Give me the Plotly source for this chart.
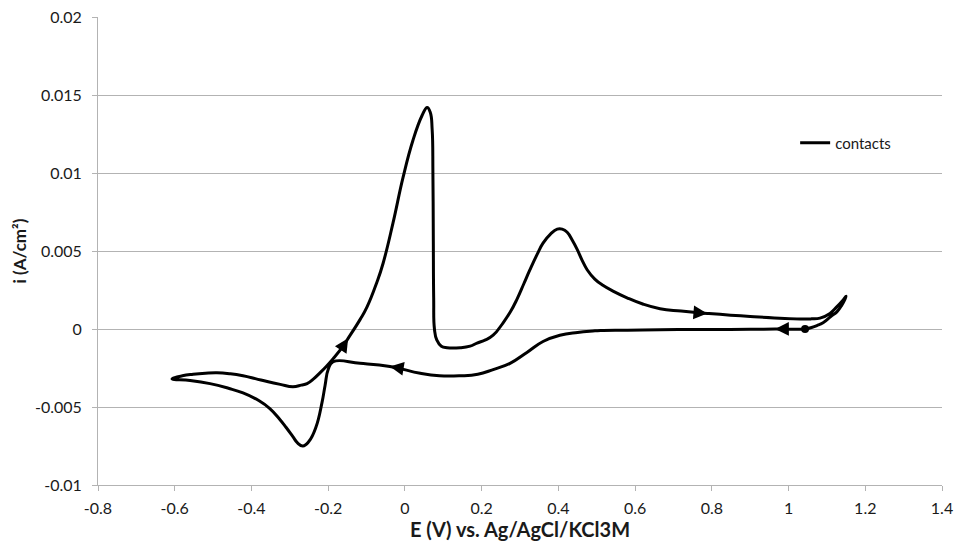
import math
import plotly.graph_objects as go

# Cyclic voltammogram, scan starts at the dot and goes toward negative potentials
E = [1.043, 0.965, 0.90, 0.77, 0.665, 0.58, 0.51, 0.49, 0.45, 0.404, 0.36, 0.318, 0.274, 0.23, 0.19, 0.144, 0.09,
     0.04, -0.039, -0.117, -0.187, -0.200, -0.208, -0.216, -0.232, -0.25, -0.266, -0.28, -0.292, -0.31, -0.326,
     -0.352, -0.38, -0.422, -0.46, -0.508, -0.56, -0.607,
     -0.58, -0.552, -0.52, -0.49, -0.455, -0.422, -0.39, -0.359, -0.325, -0.292, -0.27, -0.255, -0.238, -0.221,
     -0.205, -0.187, -0.161, -0.148, -0.117, -0.099, -0.073, -0.057, -0.031, -0.005, 0.021, 0.045, 0.058,
     0.066, 0.071, 0.073, 0.074, 0.075, 0.077, 0.083, 0.095, 0.11, 0.144, 0.17, 0.188, 0.21, 0.23, 0.256,
     0.275, 0.292, 0.31, 0.326, 0.345, 0.36, 0.38, 0.397, 0.41, 0.423, 0.436, 0.449, 0.462, 0.475, 0.495,
     0.516, 0.545, 0.579, 0.62, 0.665, 0.72, 0.788, 0.9, 1.03, 1.06, 1.082, 1.108, 1.125, 1.14, 1.150,
     1.138, 1.126, 1.11, 1.09, 1.074, 1.06, 1.043]
I = [0.0, 0.0, -0.00002, -0.00003, -0.00005, -0.00008, -0.0001, -0.00013, -0.00022, -0.0004, -0.0008, -0.0015,
     -0.0022, -0.0026, -0.0029, -0.0030, -0.0030,
     -0.00284, -0.0024, -0.0022, -0.0021, -0.0026, -0.0036, -0.0047, -0.0063, -0.0072, -0.0075, -0.0073,
     -0.0069, -0.0063, -0.0058,
     -0.0051, -0.0046, -0.0041, -0.0038, -0.0035, -0.0033, -0.0032,
     -0.0030, -0.0029, -0.00283, -0.0028, -0.00287, -0.0030, -0.00318, -0.00337, -0.00355, -0.0037, -0.0036,
     -0.0035, -0.0032, -0.0028,
     -0.0024, -0.0019, -0.0011, -0.0006, 0.0006, 0.0014, 0.0030, 0.0042, 0.0068, 0.0097, 0.0121, 0.0137,
     0.0142,
     0.0139, 0.0128, 0.0100, 0.0060, 0.0020, 0.0000, -0.0007, -0.0011, -0.0012, -0.0012, -0.0011, -0.0009,
     -0.0007, -0.0004, 0.0004,
     0.0011, 0.0019, 0.0029, 0.0038, 0.0048, 0.0055, 0.0061, 0.0064, 0.0064, 0.0062, 0.0057, 0.0051, 0.0044,
     0.0038, 0.0032,
     0.0028, 0.0024, 0.0020, 0.0016, 0.0013, 0.00115, 0.0010, 0.0008, 0.00064, 0.00065, 0.0007, 0.001,
     0.0014, 0.0018, 0.0021,
     0.0015, 0.0011, 0.0008, 0.0004, 0.00022, 0.0001, 0.0]

# approximate places of the scan-direction arrows (snapped to the nearest data point)
arrow_near = [(0.965, 0.0), (-0.039, -0.0024), (-0.148, -0.0006), (0.788, 0.0010)]

x_ticks = [-0.8, -0.6, -0.4, -0.2, 0, 0.2, 0.4, 0.6, 0.8, 1, 1.2, 1.4]
x_labels = ["-0.8", "-0.6", "-0.4", "-0.2", "0", "0.2", "0.4", "0.6", "0.8", "1", "1.2", "1.4"]
y_ticks = [-0.01, -0.005, 0, 0.005, 0.01, 0.015, 0.02]
y_labels = ["-0.01", "-0.005", "0", "0.005", "0.01", "0.015", "0.02"]

FONT = "Lato, 'Open Sans', sans-serif"
GRID = "#b3b3b3"
W, H = 956, 555
ML, MR, MT, MB = 98, 14, 17, 70
X0, X1 = -0.8, 1.4
Y0, Y1 = -0.01, 0.02
SX = (W - ML - MR) / (X1 - X0)
SY = (H - MT - MB) / (Y1 - Y0)

fig = go.Figure()
fig.add_trace(go.Scatter(x=E, y=I, mode="lines", name="contacts",
                         line=dict(color="black", width=3, shape="spline", smoothing=1.3)))
fig.add_trace(go.Scatter(x=[E[0]], y=[I[0]], mode="markers", showlegend=False,
                         marker=dict(color="black", size=8)))

for (ex, iy) in arrow_near:
    k = min(range(1, len(E) - 1), key=lambda j: ((E[j] - ex) * SX) ** 2 + ((I[j] - iy) * SY) ** 2)
    dx = (E[k + 1] - E[k - 1]) * SX
    dy = (I[k + 1] - I[k - 1]) * SY
    n = math.hypot(dx, dy)
    ux, uy = dx / n, dy / n
    L = 12
    fig.add_annotation(x=E[k], y=I[k], ax=-ux * L, ay=uy * L, xref="x", yref="y",
                       text="", showarrow=True, arrowhead=2, arrowsize=1.1, arrowwidth=2.5,
                       arrowcolor="black", standoff=0, startstandoff=0)

fig.update_layout(
    width=W, height=H,
    margin=dict(l=ML, r=MR, t=MT, b=MB, autoexpand=False),
    paper_bgcolor="white", plot_bgcolor="white",
    font=dict(family=FONT, size=16, color="#1a1a1a"),
    showlegend=True,
    legend=dict(x=0.826, y=0.731, xanchor="left", yanchor="middle",
                bgcolor="rgba(0,0,0,0)", font=dict(size=15), itemwidth=30),
    xaxis=dict(range=[X0, X1], tickvals=x_ticks, ticktext=x_labels, automargin=False,
               showgrid=False, zeroline=False, showline=True, linecolor=GRID, linewidth=1,
               ticks="outside", ticklen=5, tickcolor=GRID, ticklabelstandoff=4,
               title=dict(text="<b>E (V) vs. Ag/AgCl/KCl3M</b>", font=dict(size=20), standoff=4)),
    yaxis=dict(range=[Y0, Y1], tickvals=y_ticks, ticktext=y_labels, automargin=False,
               showgrid=True, gridcolor=GRID, gridwidth=1, zeroline=False,
               showline=True, linecolor=GRID, linewidth=1,
               ticks="outside", ticklen=5, tickcolor=GRID, ticklabelstandoff=7,
               title=dict(text="<b>i (A/cm²)</b>", font=dict(size=17), standoff=4)),
)

fig.write_html("out.html")
